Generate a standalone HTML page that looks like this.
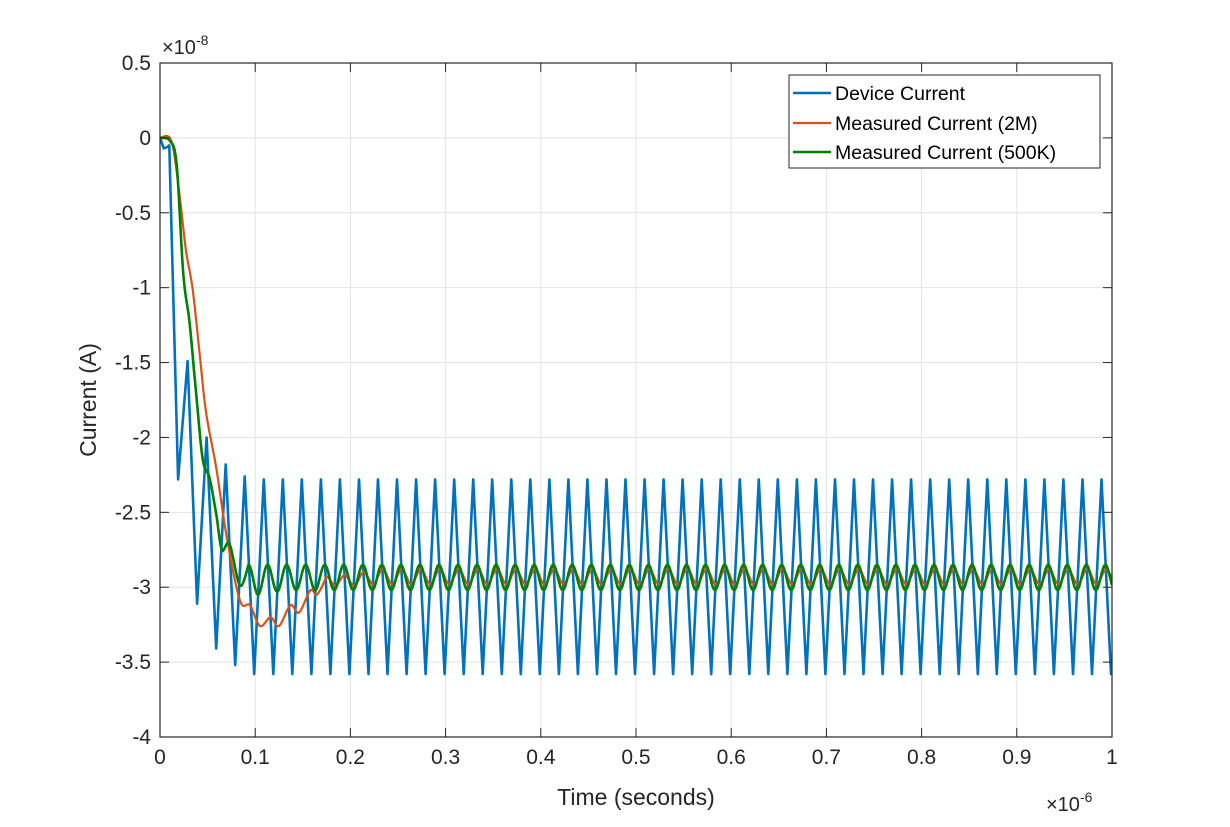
<!DOCTYPE html>
<html><head><meta charset="utf-8"><style>
body{margin:0;background:#fff;}
svg{display:block;font-family:"Liberation Sans",sans-serif;}
</style></head><body>
<svg id="chart" width="1230" height="827" viewBox="0 0 1230 827" xmlns="http://www.w3.org/2000/svg">
<rect x="0" y="0" width="1230" height="827" fill="#fff"/>
<g id="grid"></g><g id="series"></g><g id="axes"></g>
</svg>
<script>
// ---- data ----
const xTicks=[0,0.1,0.2,0.3,0.4,0.5,0.6,0.7,0.8,0.9,1];
const xTickLabels=["0","0.1","0.2","0.3","0.4","0.5","0.6","0.7","0.8","0.9","1"];
const yTicks=[0.5,0,-0.5,-1,-1.5,-2,-2.5,-3,-3.5,-4];
const yTickLabels=["0.5","0","-0.5","-1","-1.5","-2","-2.5","-3","-3.5","-4"];
// transient points (time in 1e-6 s, current in 1e-8 A)
const blueT=[0,0.004,0.008,0.0098];
const blueV=[0,-0.07,-0.06,-0.05];
// blue extrema starting at t=0.019, every 0.01
const blueExtStart=0.019, blueExtStep=0.01;
const blueExt=[-2.28,-1.49,-3.11,-2.0,-3.41,-2.18,-3.52,-2.26,-3.58,
-2.28,-3.58,-2.28,-3.58,-2.28,-3.58,-2.28,-3.58,-2.28,-3.58,-2.28,-3.58,-2.28,-3.58,-2.28,-3.58,
-2.28,-3.58,-2.28,-3.58,-2.28,-3.58,-2.28,-3.58,-2.28,-3.58,-2.28,-3.58,-2.28,-3.58,-2.28,-3.58,
-2.28,-3.58,-2.28,-3.58,-2.28,-3.58,-2.28,-3.58,-2.28,-3.58,-2.28,-3.58,-2.28,-3.58,-2.28,-3.58,
-2.28,-3.58,-2.28,-3.58,-2.28,-3.58,-2.28,-3.58,-2.28,-3.58,-2.28,-3.58,-2.28,-3.58,-2.28,-3.58,
-2.28,-3.58,-2.28,-3.58,-2.28,-3.58,-2.28,-3.58,-2.28,-3.58,-2.28,-3.58,-2.28,-3.58,-2.28,-3.58,
-2.28,-3.58,-2.28,-3.58,-2.28,-3.58,-2.28,-3.58,-2.28,-3.58,-2.28,-3.58,-2.28,-3.58,-2.28,-3.58];
const greenT=[0,0.0105,0.0175,0.0245,0.031,0.038,0.045,0.052,0.059,0.065,0.073,0.084,0.093];
const greenV=[0,-0.02,-0.18,-0.91,-1.23,-1.71,-2.15,-2.27,-2.51,-2.75,-2.71,-2.99,-2.85];
const greenExtStart=0.103, greenExtStep=0.01;
const greenExt=[-3.05,-2.85,-3.03,-2.85,-3.02,-2.85,-3.02,-2.85,-3.02,-2.85,
-3.02,-2.85,-3.02,-2.85,-3.02,-2.85,-3.02,-2.85,-3.02,-2.85,-3.02,-2.85,-3.02,-2.85,-3.02,-2.85,
-3.02,-2.85,-3.02,-2.85,-3.02,-2.85,-3.02,-2.85,-3.02,-2.85,-3.02,-2.85,-3.02,-2.85,-3.02,-2.85,
-3.02,-2.85,-3.02,-2.85,-3.02,-2.85,-3.02,-2.85,-3.02,-2.85,-3.02,-2.85,-3.02,-2.85,-3.02,-2.85,
-3.02,-2.85,-3.02,-2.85,-3.02,-2.85,-3.02,-2.85,-3.02,-2.85,-3.02,-2.85,-3.02,-2.85,-3.02,-2.85,
-3.02,-2.85,-3.02,-2.85,-3.02,-2.85,-3.02,-2.85,-3.02,-2.85,-3.02,-2.85,-3.02,-2.85,-3.02,-2.85,
-3.02,-2.85,-3.02,-2.85,-3.02,-2.85,-3.02,-2.85];
const redT=[0,0.012,0.0205,0.027,0.0343,0.041,0.0483,0.059,0.070,0.084,0.0945,0.105,0.116,0.125,0.137,0.146,0.158,0.165,0.175];
const redV=[0,-0.02,-0.38,-0.74,-1.01,-1.40,-1.83,-2.2,-2.66,-3.09,-3.12,-3.26,-3.2,-3.26,-3.12,-3.17,-3.02,-3.05,-2.93];
const redExtStart=0.184, redExtStep=0.01;
const redExt=[-2.99,-2.92,-2.99,-2.9,-2.98,-2.88,-2.98,-2.88,-2.98,-2.88,
-2.98,-2.88,-2.98,-2.88,-2.98,-2.88,-2.98,-2.88,-2.98,-2.88,-2.98,-2.88,-2.98,-2.88,-2.98,-2.88,
-2.98,-2.88,-2.98,-2.88,-2.98,-2.88,-2.98,-2.88,-2.98,-2.88,-2.98,-2.88,-2.98,-2.88,-2.98,-2.88,
-2.98,-2.88,-2.98,-2.88,-2.98,-2.88,-2.98,-2.88,-2.98,-2.88,-2.98,-2.88,-2.98,-2.88,-2.98,-2.88,
-2.98,-2.88,-2.98,-2.88,-2.98,-2.88,-2.98,-2.88,-2.98,-2.88,-2.98,-2.88,-2.98,-2.88,-2.98,-2.88,
-2.98,-2.88,-2.98,-2.88,-2.98,-2.88,-2.98,-2.88,-2.98,-2.88,-2.98,-2.88,-2.98,-2.88];
// ---- layout ----
const X0=160,X1=1112,Y0=63,Y1=737;
const xs=t=>X0+(t-0)/(1-0)*(X1-X0);
const ys=v=>Y0+(0.5-v)/(0.5-(-4))*(Y1-Y0);
const NS="http://www.w3.org/2000/svg";
function mk(tag,attrs,parent){const e=document.createElementNS(NS,tag);for(const k in attrs)e.setAttribute(k,attrs[k]);parent.appendChild(e);return e;}
const grid=document.getElementById('grid'),axes=document.getElementById('axes'),series=document.getElementById('series');
xTicks.forEach((t,i)=>{
  const l=mk('line',{x1:xs(t),x2:xs(t),y1:Y0,y2:Y1,stroke:'#e3e3e3','stroke-width':1},grid);
  
  
  mk('line',{x1:xs(t),x2:xs(t),y1:Y1,y2:Y1-9,stroke:'#262626','stroke-width':1},axes);
  mk('line',{x1:xs(t),x2:xs(t),y1:Y0,y2:Y0+9,stroke:'#262626','stroke-width':1},axes);
  const tx=mk('text',{x:xs(t),y:Y1+27,'text-anchor':'middle','font-size':21,fill:'#262626'},axes);
  tx.textContent=xTickLabels[i];
  
  
});
yTicks.forEach((v,i)=>{
  const l=mk('line',{x1:X0,x2:X1,y1:ys(v),y2:ys(v),stroke:'#e3e3e3','stroke-width':1},grid);
  
  
  mk('line',{x1:X0,x2:X0+9,y1:ys(v),y2:ys(v),stroke:'#262626','stroke-width':1},axes);
  mk('line',{x1:X1,x2:X1-9,y1:ys(v),y2:ys(v),stroke:'#262626','stroke-width':1},axes);
  const tx=mk('text',{x:X0-9,y:ys(v)+7,'text-anchor':'end','font-size':21,fill:'#262626'},axes);
  tx.textContent=yTickLabels[i];
  
  
});
const box=mk('rect',{x:X0,y:Y0,width:X1-X0,height:Y1-Y0,fill:'none',stroke:'#262626','stroke-width':1.2},axes);


function buildPath(T,V,start,step,ext,linear){
  let pts=[];
  if(linear){pts=T.map((t,i)=>[xs(t),ys(V[i])]);}
  else{
    // Catmull-Rom smoothing of transient
    const P=T.map((t,i)=>[xs(t),ys(V[i])]);
    for(let i=0;i<P.length-1;i++){
      const p0=P[Math.max(0,i-1)],p1=P[i],p2=P[i+1],p3=P[Math.min(P.length-1,i+2)];
      for(let k=0;k<6;k++){const s=k/6,s2=s*s,s3=s2*s;
        const f=(a,b,c,d)=>0.5*((2*b)+(-a+c)*s+(2*a-5*b+4*c-d)*s2+(-a+3*b-3*c+d)*s3);
        pts.push([f(p0[0],p1[0],p2[0],p3[0]),f(p0[1],p1[1],p2[1],p3[1])]);}
    }
    pts.push(P[P.length-1]);
  }
  let prevT=T[T.length-1],prevV=V[V.length-1];
  for(let i=0;i<ext.length;i++){
    const v=ext[i]; const t=start+step*i;
    const n=linear?1:8;
    let done=false;
    for(let k=1;k<=n;k++){const f=k/n;const e=linear?f:(1-Math.cos(Math.PI*f))/2;
      let tt=prevT+(t-prevT)*f, vv=prevV+(v-prevV)*e;
      if(tt>1){const f1=(1-prevT)/(t-prevT);const e1=linear?f1:(1-Math.cos(Math.PI*f1))/2;
        pts.push([xs(1),ys(prevV+(v-prevV)*e1)]);done=true;break;}
      pts.push([xs(tt),ys(vv)]);}
    if(done)break;
    prevT=t;prevV=v;
  }
  return 'M'+pts.map(p=>p[0].toFixed(1)+','+p[1].toFixed(1)).join(' L');
}
const clip=mk('clipPath',{id:'pc'},series);mk('rect',{x:X0,y:Y0,width:X1-X0,height:Y1-Y0},clip);
const pb=mk('path',{d:buildPath(blueT,blueV,blueExtStart,blueExtStep,blueExt,true),fill:'none',stroke:'#0072BD','stroke-width':2.6,'stroke-linejoin':'round','clip-path':'url(#pc)'},series);


const pr=mk('path',{d:buildPath(redT,redV,redExtStart,redExtStep,redExt,false),fill:'none',stroke:'#D95319','stroke-width':2.2,'clip-path':'url(#pc)'},series);


const pg=mk('path',{d:buildPath(greenT,greenV,greenExtStart,greenExtStep,greenExt,false),fill:'none',stroke:'#007F00','stroke-width':2.6,'clip-path':'url(#pc)'},series);


</script>
<svg style="position:absolute;left:0;top:0" width="1230" height="827" xmlns="http://www.w3.org/2000/svg" font-family="Liberation Sans, sans-serif">
<text x="162" y="54" font-size="20" fill="#262626">×10<tspan dy="-9" font-size="14">-8</tspan></text>
<text x="1046" y="811" font-size="20" fill="#262626">×10<tspan dy="-9" font-size="14">-6</tspan></text>
<text x="636" y="805" text-anchor="middle" font-size="23" fill="#262626">Time (seconds)</text>
<text transform="translate(96,400) rotate(-90)" text-anchor="middle" font-size="23" fill="#262626">Current (A)</text>
<g>
<rect x="789" y="75" width="311" height="93" fill="#fff" stroke="#262626" stroke-width="1"/>
<line x1="793" x2="831" y1="93" y2="93" stroke="#0072BD" stroke-width="2.6"/>
<text x="835" y="100" font-size="19.5" fill="#000">Device Current</text>
<line x1="793" x2="831" y1="123" y2="123" stroke="#D95319" stroke-width="2.2"/>
<text x="835" y="130" font-size="19.5" fill="#000">Measured Current (2M)</text>
<line x1="793" x2="831" y1="152" y2="152" stroke="#007F00" stroke-width="2.6"/>
<text x="835" y="159" font-size="19.5" fill="#000">Measured Current (500K)</text>
</g>
</svg>
</body></html>
